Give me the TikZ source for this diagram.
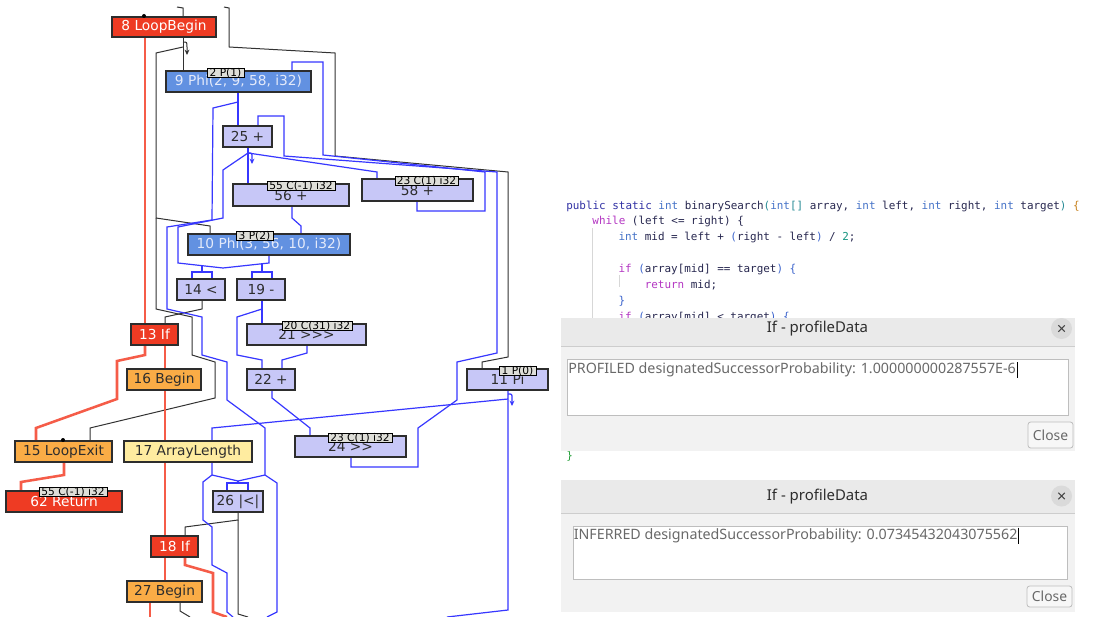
\documentclass[tikz,border=0pt]{standalone}
\usepackage{fontspec}
\setmainfont{DejaVu Sans}[Ligatures=TeXOff]
\newfontfamily\codefont{DejaVu Sans Mono}[Ligatures=TeXOff]
\newfontfamily\uifont{Noto Sans}
\usetikzlibrary{arrows.meta}
\pgfdeclarelayer{back}
\pgfdeclarelayer{edges}
\pgfsetlayers{back,edges,main}
\definecolor{nred}{RGB}{238,59,35}
\definecolor{nphi}{RGB}{98,145,225}
\definecolor{nlav}{RGB}{199,199,247}
\definecolor{norange}{RGB}{250,172,70}
\definecolor{nyellow}{RGB}{255,236,160}
\definecolor{nodeborder}{RGB}{45,45,45}
\definecolor{phitext}{RGB}{228,234,250}
\definecolor{darktext}{RGB}{45,45,45}
\definecolor{tagfill}{RGB}{222,222,216}
\definecolor{edgeblack}{RGB}{50,50,50}
\definecolor{edgeblue}{RGB}{55,55,255}
\definecolor{edgered}{RGB}{245,92,72}
\definecolor{ckw}{RGB}{50,50,165}
\definecolor{cty}{RGB}{70,115,200}
\definecolor{cctl}{RGB}{180,55,195}
\definecolor{cid}{RGB}{40,40,80}
\definecolor{cnum}{RGB}{25,150,130}
\definecolor{cpar}{RGB}{40,140,150}
\definecolor{cbr}{RGB}{60,100,205}
\definecolor{corg}{RGB}{200,130,30}
\definecolor{cgrn}{RGB}{40,160,60}
\definecolor{guide}{RGB}{215,215,215}
\definecolor{titlebar}{RGB}{234,234,234}
\definecolor{dlgbody}{RGB}{242,242,242}
\definecolor{dlgline}{RGB}{205,205,205}
\definecolor{fieldborder}{RGB}{190,190,190}
\definecolor{fieldtext}{RGB}{105,105,105}
\definecolor{xcircle}{RGB}{218,218,218}
\definecolor{xgray}{RGB}{70,70,70}
\newcommand\gnode[7]{\node[#6, anchor=north west, minimum width={(#4-#2)*0.75pt}, minimum height={(#5-#3)*0.75pt}] (#1) at (#2,#3) {#7};}
\tikzset{
  gbox/.style={draw=nodeborder, line width=1pt, inner sep=0pt, outer sep=0pt, font=\fontsize{10.3}{11}\selectfont},
  redn/.style={gbox, fill=nred, text=white},
  phin/.style={gbox, fill=nphi, text=phitext},
  lavn/.style={gbox, fill=nlav, text=darktext},
  orn/.style={gbox, fill=norange, text=darktext},
  yeln/.style={gbox, fill=nyellow, text=darktext},
  tagn/.style={draw=black, line width=0.6pt, fill=tagfill, inner sep=0pt, outer sep=0pt, font=\fontsize{8}{8}\selectfont, text=black},
  assoc/.style={draw=edgeblack, line width=0.75pt},
  dataf/.style={draw=edgeblue, line width=0.9pt},
  ctrl/.style={draw=edgered, line width=1.9pt},
  slot/.style={-{Stealth[length=4pt,width=3.6pt]}},
  codeline/.style={anchor=base west, inner sep=0pt, font=\codefont\fontsize{8.2}{10}\selectfont, text=cid},
  dlgtitle/.style={inner sep=0pt, font=\uifont\bfseries\fontsize{11.2}{13}\selectfont, text=darktext},
  dlgtext/.style={anchor=west, inner sep=0pt, font=\uifont\fontsize{10.7}{12}\selectfont, text=fieldtext},
  btn/.style={draw=fieldborder, fill=white!97!black, rounded corners=2pt, line width=0.6pt, inner sep=0pt, font=\uifont\fontsize{10.4}{12}\selectfont, text=fieldtext}
}
\begin{document}
\begin{tikzpicture}[x=0.75pt,y=-0.75pt]
\useasboundingbox (0,0) rectangle (1113,617);
\begin{pgfonlayer}{back}
\fill[white] (0,0) rectangle (1113,617);
\end{pgfonlayer}

% ---------------- graph nodes
\gnode{n8}{112}{17}{216}{37}{redn}{8 LoopBegin}
\gnode{n9}{166}{71}{311}{92}{phin}{9 Phi(2, 9, 58, i32)}
\gnode{n25}{223}{126}{272}{147}{lavn}{25 +}
\gnode{n56}{233}{184}{349}{206}{lavn}{56 +}
\gnode{n58}{362}{179}{473}{201}{lavn}{58 +}
\gnode{n10}{188}{234}{350}{255}{phin}{10 Phi(3, 56, 10, i32)}
\gnode{n14}{177}{279}{225}{300}{lavn}{14 <}
\gnode{n19}{237}{279}{285}{300}{lavn}{19 -}
\gnode{n13}{131}{324}{178}{345}{redn}{13 If}
\gnode{n21}{247}{324}{366}{345}{lavn}{21 >>>}
\gnode{n16}{127}{369}{201}{390}{orn}{16 Begin}
\gnode{n22}{247}{369}{295}{390}{lavn}{22 +}
\gnode{n11}{467}{369}{548}{390}{lavn}{11 Pi}
\gnode{n24}{295}{436}{406}{457}{lavn}{24 >>}
\gnode{n15}{15}{441}{112}{462}{orn}{15 LoopExit}
\gnode{n17}{124}{441}{252}{462}{yeln}{17 ArrayLength}
\gnode{n62}{6}{491}{122}{512}{redn}{62 Return}
\gnode{n26}{213}{491}{263}{512}{lavn}{26 |<|}
\gnode{n18}{151}{536}{198}{557}{redn}{18 If}
\gnode{n27}{127}{581}{202}{602}{orn}{27 Begin}
% tags
\gnode{t9}{207}{68}{244}{76}{tagn}{2 P(1)}
\gnode{t56}{267}{181}{335}{189}{tagn}{55 C(-1) i32}
\gnode{t58}{395}{176}{458}{184}{tagn}{23 C(1) i32}
\gnode{t10}{236}{231}{273}{239}{tagn}{3 P(2)}
\gnode{t21}{282}{321}{352}{329}{tagn}{20 C(31) i32}
\gnode{t11}{499}{366}{536}{374}{tagn}{1 P(0)}
\gnode{t24}{328}{433}{392}{441}{tagn}{23 C(1) i32}
\gnode{t62}{39}{487}{107}{496}{tagn}{55 C(-1) i32}
\fill[black] (144,16) circle (2);
\fill[black] (63,440) circle (2);

% ---------------- edges
\begin{pgfonlayer}{edges}
\coordinate (topA) at (177,7);
\coordinate (topB) at (224,7);
\coordinate (endK) at (248,617);
\coordinate (endL) at (190,617);
\coordinate (endR1) at (227,617);
\coordinate (endR2) at (150,617);
\coordinate (endU2) at (267,617);
\coordinate (endU13a) at (447,617);
\coordinate (endU13b) at (233,617);
% association (black)
\draw[assoc] (topA) -- (183,8) -- (n8.north -| 183,0);
\draw[assoc] (topB) -- (229,8) -- (229,47) -- (335,53) -- (335,156) -- (508,172) -- (508,357) -- (482,362) -- (n11.north -| 482,0);
\draw[assoc] (n8.south -| 183,0) -- (n9.north -| 183,0);
\draw[assoc,slot] (183,42) .. controls (187,42) .. (187,47) -- (187,55);
\draw[assoc] (183,47) -- (156,53) -- (156,218) -- (210,226) -- (n10.north -| 210,0);
\draw[assoc] (156,218) -- (156,309) -- (192,317) -- (192,355) -- (215,362) -- (215,398) -- (90,428) -- (n15.north -| 90,0);
\draw[assoc] (n14.south -| 202,0) -- (202,309) -- (165,317) -- (n13.north -| 165,0);
\draw[assoc] (n26.south -| 238,0) -- (238,520) -- (185,527) -- (n18.north -| 185,0);
\draw[assoc] (238,520) -- (238,614) -- (endK);
\draw[assoc] (n27.south -| 180,0) -- (180,611) -- (endL);
% control flow (red)
\draw[ctrl] (n8.south -| 145,0) -- (n13.north -| 145,0);
\draw[ctrl] (n13.south -| 145,0) -- (145,355) -- (117,361) -- (117,399) -- (36,428) -- (n15.north -| 36,0);
\draw[ctrl] (n13.south -| 165,0) -- (n16.north -| 165,0);
\draw[ctrl] (n16.south -| 165,0) -- (n17.north -| 165,0);
\draw[ctrl] (n17.south -| 165,0) -- (n18.north -| 165,0);
\draw[ctrl] (n18.south -| 165,0) -- (n27.north -| 165,0);
\draw[ctrl] (n18.south -| 185,0) -- (185,565) -- (213,573) -- (213,612) -- (endR1);
\draw[ctrl] (n27.south -| 150,0) -- (endR2);
\draw[ctrl] (n15.south -| 64,0) -- (64,475) -- (21,482) -- (n62.north -| 21,0);
% data flow (blue)
\draw[dataf] (n9.south -| 238,0) -- (n25.north -| 238,0);
\draw[dataf] (238,102) -- (213,108) -- (212,220) -- (167,227) -- (167,309) -- (202,317) -- (202,355) -- (227,362) -- (227,400) -- (265,428) -- (265,475) -- (277,483) -- (277,612) -- (endU2);
\draw[dataf] (n25.south -| 248,0) -- (n56.north -| 248,0);
\draw[dataf,slot] (248,153) .. controls (252,153) .. (252,157) -- (252,164);
\draw[dataf] (248,153) -- (223,170) -- (223,218) -- (178,227) -- (178,263) -- (223,268);
\draw[dataf] (n10.south -| 269,0) -- (269,263) -- (223,268);
\draw[dataf] (202,265.7) -- (202,272);
\draw[dataf] (n14.north -| 192,0) -- (192,272) -- (212,272) -- (n14.north -| 212,0);
\draw[dataf] (262,264) -- (262,272);
\draw[dataf] (n19.north -| 252,0) -- (252,272) -- (272,272) -- (n19.north -| 272,0);
\draw[dataf] (248,153) -- (377,172) -- (n58.north -| 377,0);
\draw[dataf] (n24.south -| 351,0) -- (351,467) -- (418,467) -- (418,428) -- (457,400) -- (457,362) -- (497,353) -- (497,172) -- (284,156) -- (284,116) -- (258,116) -- (n25.north -| 258,0);
\draw[dataf] (n58.south -| 417,0) -- (417,211) -- (485,211) -- (485,172) -- (323,155) -- (323,62) -- (292,62) -- (n9.north -| 292,0);
\draw[dataf] (n56.south -| 292,0) -- (292,218) -- (301,226) -- (n10.north -| 301,0);
\draw[dataf] (n19.south -| 262,0) -- (262,309) -- (n21.north -| 262,0);
\draw[dataf] (262,309) -- (237,317) -- (237,355) -- (262,360) -- (n22.north -| 262,0);
\draw[dataf] (n21.south -| 307,0) -- (307,353) -- (282,360) -- (n22.north -| 282,0);
\draw[dataf] (n22.south -| 272,0) -- (272,398) -- (310,428) -- (n24.north -| 310,0);
\draw[dataf] (n11.south -| 508,0) -- (508,610) -- (endU13a);
\draw[dataf,slot] (508,394) .. controls (512,394) .. (512,398) -- (512,406);
\draw[dataf] (508,399) -- (212,428) -- (212,475) -- (203,482) -- (203,520) -- (212,527) -- (212,565) -- (227,573) -- (227,612) -- (endU13b);
\draw[dataf] (212,475) -- (238,481) -- (265,475);
\draw[dataf] (238,481) -- (238,483);
\draw[dataf] (n26.north -| 227,0) -- (227,483) -- (248,483) -- (n26.north -| 248,0);
\end{pgfonlayer}

% ---------------- code editor
\draw[guide, line width=0.6pt] (592,228) -- (592,318);
\draw[guide, line width=0.6pt] (619,275) -- (619,287);
\node[codeline] (c1) at (566,209) {\textcolor{ckw}{public static} \textcolor{cty}{int} binarySearch\textcolor{cpar}{(}\textcolor{cty}{int}\textcolor{cpar}{[]} array, \textcolor{cty}{int} left, \textcolor{cty}{int} right, \textcolor{cty}{int} target\textcolor{cpar}{)} \textcolor{corg}{\{}};
\node[codeline] (c2) at (592.2,224.5) {\textcolor{cctl}{while} (left <= right) \{};
\node[codeline] (c3) at (618.3,240) {\textcolor{cty}{int} mid = left + \textcolor{cbr}{(}right - left\textcolor{cbr}{)} / \textcolor{cnum}{2};};
\node[codeline] (c5) at (618.3,272) {\textcolor{cctl}{if} \textcolor{cbr}{(}array[mid] == target\textcolor{cbr}{)} \textcolor{cbr}{\{}};
\node[codeline] (c6) at (644.5,288) {\textcolor{cctl}{return} mid;};
\node[codeline] (c7) at (618.3,304) {\textcolor{cbr}{\}}};
\node[codeline] (c8) at (618.3,320) {\textcolor{cctl}{if} \textcolor{cbr}{(}array[mid] < target\textcolor{cbr}{)} \textcolor{cbr}{\{}};
\node[codeline] (c9) at (566,459.5) {\textcolor{cgrn}{\}}};

% ---------------- dialog 1
\fill[dlgbody] (561,318) rectangle (1075,451);
\fill[titlebar] (561,318) rectangle (1075,346.5);
\draw[dlgline, line width=0.6pt] (561,346.5) -- (1075,346.5);
\node[dlgtitle] (d1title) at (817.5,329) {If - profileData};
\fill[xcircle] (1061.5,328.5) circle (10.5);
\draw[xgray, line width=0.8pt] (1058.3,325.3) -- (1064.7,331.7) (1058.3,331.7) -- (1064.7,325.3);
\draw[fieldborder, fill=white, line width=0.6pt] (567,359) rectangle (1068,415);
\node[dlgtext] (d1text) at (568,370) {PROFILED designatedSuccessorProbability: 1.000000000287557E-6};
\draw[black, line width=0.7pt] (d1text.east) ++(1,-8) -- ++(0,16);
\node[btn, minimum width={45*0.75pt}, minimum height={26*0.75pt}] (d1close) at (1050.5,435) {Close};

% ---------------- dialog 2
\fill[dlgbody] (561,480) rectangle (1075,612);
\fill[titlebar] (561,480) rectangle (1075,513.3);
\draw[dlgline, line width=0.6pt] (561,513.3) -- (1075,513.3);
\node[dlgtitle] (d2title) at (817.5,496.5) {If - profileData};
\fill[xcircle] (1061.5,496) circle (10.5);
\draw[xgray, line width=0.8pt] (1058.3,492.8) -- (1064.7,499.2) (1058.3,499.2) -- (1064.7,492.8);
\draw[fieldborder, fill=white, line width=0.6pt] (573,526) rectangle (1067,579);
\node[dlgtext] (d2text) at (573.5,535.5) {INFERRED designatedSuccessorProbability: 0.07345432043075562};
\draw[black, line width=0.7pt] (d2text.east) ++(1,-8) -- ++(0,16);
\node[btn, minimum width={45*0.75pt}, minimum height={21*0.75pt}] (d2close) at (1049.5,596.5) {Close};
\end{tikzpicture}
\end{document}
